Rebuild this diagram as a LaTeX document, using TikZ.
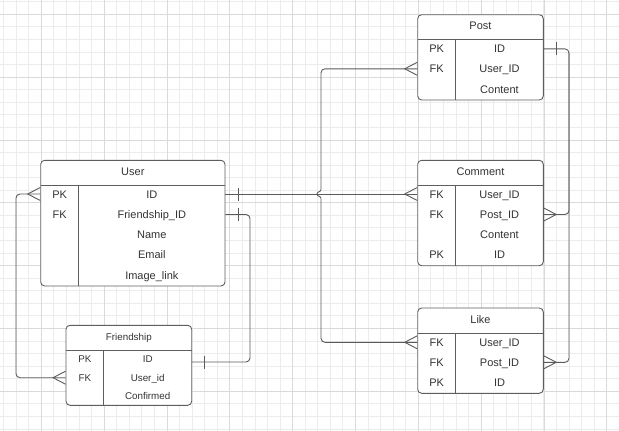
\documentclass[tikz,border=0pt]{standalone}
\usepackage{fontspec}
\setmainfont{Liberation Sans}
\usetikzlibrary{calc}
\definecolor{gridminor}{HTML}{ECECEC}
\definecolor{gridmajor}{HTML}{DADADA}
\definecolor{boxc}{HTML}{5E5E5E}
\definecolor{linec}{HTML}{5A5A5A}
\definecolor{txt}{HTML}{333333}
\begin{document}
\begin{tikzpicture}[x=1pt,y=-1pt,
  tbl/.style={draw=boxc, line width=0.9pt, fill=white, rounded corners=4pt, inner sep=0pt},
  sep/.style={draw=boxc, line width=0.9pt},
  cell/.style={inner sep=0pt, text=txt, text height=8pt, text depth=0pt,
    font=\fontsize{11}{13}\selectfont},
  scell/.style={inner sep=0pt, text=txt, text height=7pt, text depth=0pt,
    font=\fontsize{9.8}{12}\selectfont},
  conn/.style={draw=linec, line width=0.9pt},
  crowW/.pic={\draw[conn] (0,-6.5) -- (-12.5,0) -- (0,6.5);},
  crowE/.pic={\draw[conn] (0,-6.5) -- (12.5,0) -- (0,6.5);},
  barE/.pic={\draw[conn] (13,-6.5) -- (13,6.5);},
  barW/.pic={\draw[conn] (-13,-6.5) -- (-13,6.5);}]

\useasboundingbox (0,0) rectangle (619,431);

% background grid
\begin{scope}
  \clip (0,0) rectangle (619,431);
  \foreach \k in {0,...,49} {
    \draw[gridminor, line width=0.8pt] ({3.6+12.565*\k},0) -- ({3.6+12.565*\k},431);
  }
  \foreach \k in {0,...,34} {
    \draw[gridminor, line width=0.8pt] (0,{1.7+12.565*\k}) -- (619,{1.7+12.565*\k});
  }
  \foreach \m in {-1,...,9} {
    \draw[gridmajor, line width=0.8pt] ({41.3+62.825*\m},0) -- ({41.3+62.825*\m},431);
  }
  \foreach \m in {0,...,6} {
    \draw[gridmajor, line width=0.8pt] (0,{14.3+62.825*\m}) -- (619,{14.3+62.825*\m});
  }
\end{scope}

% ---------- tables ----------
% User
\node[tbl, minimum width=184.3pt, minimum height=125.7pt] (user) at (132.85,223.15) {};
\draw[sep] (40.7,185) -- (225,185);
\draw[sep] (78.7,185) -- (78.7,286);
\node[cell] (userT) at (132.85,171.3) {User};
\node[cell] (uidK)  at (59.7,194) {PK};
\node[cell] (uid)   at (151.85,194) {ID};
\node[cell] (ufidK) at (59.7,214.5) {FK};
\node[cell] (ufid)  at (151.85,214.5) {Friendship\_ID};
\node[cell] (uname) at (151.85,234.5) {Name};
\node[cell] (umail) at (151.85,254.5) {Email};
\node[cell] (uimg)  at (151.85,275) {Image\_link};

% Friendship
\node[tbl, minimum width=125.7pt, minimum height=80pt] (fr) at (128.85,365.3) {};
\draw[sep] (66,350.7) -- (191.7,350.7);
\draw[sep] (103.7,350.7) -- (103.7,405.3);
\node[scell] (frT)  at (128.85,337.3) {Friendship};
\node[scell] (fidK) at (84.85,358.7) {PK};
\node[scell] (fid)  at (147.7,358.7) {ID};
\node[scell] (fuidK) at (84.85,377.7) {FK};
\node[scell] (fuid) at (147.7,377.7) {User\_id};
\node[scell] (fconf) at (147.7,395.7) {Confirmed};

% Post
\node[tbl, minimum width=125.6pt, minimum height=85.3pt] (post) at (480.5,57.35) {};
\draw[sep] (417.7,39.3) -- (543.3,39.3);
\draw[sep] (455.7,39.3) -- (455.7,100);
\node[cell] (postT) at (480.5,26) {Post};
\node[cell] (pidK)  at (436.7,48.9) {PK};
\node[cell] (pid)   at (499.5,48.9) {ID};
\node[cell] (puidK) at (436.7,68.8) {FK};
\node[cell] (puid)  at (499.5,68.8) {User\_ID};
\node[cell] (pcont) at (499.5,89.3) {Content};

% Comment
\node[tbl, minimum width=125.6pt, minimum height=105.4pt] (comment) at (480.5,213) {};
\draw[sep] (417.7,185.3) -- (543.3,185.3);
\draw[sep] (455.7,185.3) -- (455.7,265.7);
\node[cell] (commentT) at (480.5,171.3) {Comment};
\node[cell] (cuidK) at (436.7,194) {FK};
\node[cell] (cuid)  at (499.5,194) {User\_ID};
\node[cell] (cpidK) at (436.7,214.5) {FK};
\node[cell] (cpid)  at (499.5,214.5) {Post\_ID};
\node[cell] (ccont) at (499.5,234) {Content};
\node[cell] (cidK)  at (436.7,254) {PK};
\node[cell] (cid)   at (499.5,254) {ID};

% Like
\node[tbl, minimum width=125.6pt, minimum height=85.3pt] (like) at (480.5,350.65) {};
\draw[sep] (417.7,333.3) -- (543.3,333.3);
\draw[sep] (455.7,333.3) -- (455.7,393.3);
\node[cell] (likeT) at (480.5,319.3) {Like};
\node[cell] (luidK) at (436.7,342.3) {FK};
\node[cell] (luid)  at (499.5,342.3) {User\_ID};
\node[cell] (lpidK) at (436.7,362.3) {FK};
\node[cell] (lpid)  at (499.5,362.3) {Post\_ID};
\node[cell] (lidK)  at (436.7,382) {PK};
\node[cell] (lid)   at (499.5,382) {ID};

% ---------- relationships ----------
% User.ID -> Comment.User_ID
\draw[conn] (user.east |- uid) -- (comment.west |- cuid);
\pic at (user.east |- uid) {barE};
\pic at (comment.west |- cuid) {crowW};

% Post.User_ID -- Like.User_ID trunk, hopping over the line above
\coordinate (hopT) at (321,189.5);
\coordinate (hopL) at (317,194);
\coordinate (hopB) at (321,198.5);
\draw[conn, rounded corners=4pt] (post.west |- puid) -| (hopT);
\draw[conn] (hopT) .. controls (321,192) and (317,191.5) .. (hopL)
                   .. controls (317,196.5) and (321,196) .. (hopB);
\draw[conn, rounded corners=4pt] (hopB) |- (like.west |- luid);
\pic at (post.west |- puid) {crowW};
\pic at (like.west |- luid) {crowW};

% Post.ID -> Comment.Post_ID, Like.Post_ID
\coordinate (trunkR) at (569,0);
\draw[conn, rounded corners=4pt] (post.east |- pid) -| (trunkR |- lpid) -- (like.east |- lpid);
\draw[conn, rounded corners=4pt] ($(trunkR |- pid)+(0,4)$) |- (comment.east |- cpid);
\pic at (post.east |- pid) {barE};
\pic at (comment.east |- cpid) {crowE};
\pic at (like.east |- lpid) {crowE};

% User.ID -- Friendship.User_id (left loop)
\coordinate (trunkL) at (16,0);
\draw[conn, rounded corners=4pt] (user.west |- uid) -| (trunkL |- fuid) -- (fr.west |- fuid);
\pic at (user.west |- uid) {crowW};
\pic at (fr.west |- fuid) {crowW};

% User.Friendship_ID -> Friendship.ID (right loop)
\coordinate (frR) at (191.7,362);
\coordinate (trunkF) at (250,0);
\draw[conn, rounded corners=4pt] (user.east |- ufid) -| (trunkF |- frR) -- (frR);
\pic at (user.east |- ufid) {barE};
\pic at (frR) {barE};

\end{tikzpicture}
\end{document}
